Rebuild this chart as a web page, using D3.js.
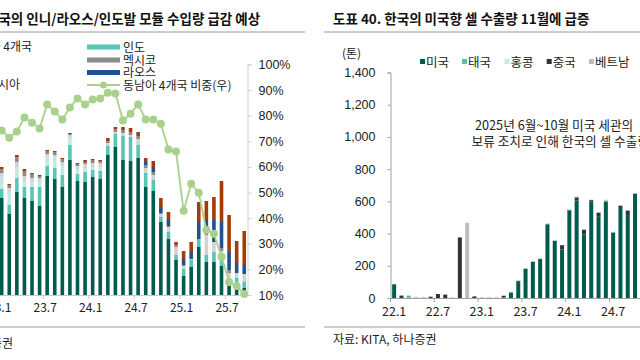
<!DOCTYPE html>
<html><head><meta charset="utf-8">
<script src="https://cdn.jsdelivr.net/npm/d3@7"></script>
<style>
body{margin:0;background:#fff;}
svg{display:block;font-family:"Noto Sans CJK KR","Noto Sans",sans-serif;}
</style>
</head><body>
<svg id="c" width="640" height="360"></svg>
<script>
// ---------- LEFT PANEL DATA ----------
const leftMonths = ["23.1","23.2","23.3","23.4","23.5","23.6","23.7","23.8","23.9","23.10","23.11","23.12",
  "24.1","24.2","24.3","24.4","24.5","24.6","24.7","24.8","24.9","24.10","24.11","24.12",
  "25.1","25.2","25.3","25.4","25.5","25.6","25.7","25.8","25.9"];
const leftTicks = ["23.1","23.7","24.1","24.7","25.1","25.7"];
const leftIndonesia = [970,810,1030,970,940,890,1190,1160,1080,1350,1140,1130,1180,1160,1400,1480,1350,1340,1370,1080,1040,730,560,350,190,280,480,330,330,290,100,80,70];
const leftIndia     = [90,90,140,110,140,190,100,110,120,150,70,100,70,80,90,130,240,240,130,140,110,50,70,50,70,70,80,70,100,70,60,90,60];
const leftCambodia  = [120,130,110,60,50,60,90,110,100,70,50,40,30,40,0,0,0,0,0,0,0,0,0,0,0,0,0,0,0,0,0,0,0];
const leftVietnam   = [40,40,50,50,40,30,30,20,30,30,30,40,40,40,30,20,30,20,60,50,50,30,50,80,30,10,0,200,100,80,60,50,80];
const leftMexico    = [40,30,50,50,40,20,30,30,30,10,20,20,30,20,20,30,30,30,30,30,30,10,10,20,10,0,0,20,0,30,30,0,0];
const leftLaos      = [0,0,0,0,0,0,0,0,0,0,0,0,0,0,0,0,0,0,0,30,50,60,60,0,60,70,180,130,220,260,180,100,90];
const leftOther     = [20,10,20,20,10,10,10,10,10,10,10,20,10,10,30,20,30,40,40,40,60,90,80,30,80,100,190,190,230,410,370,220,340];
const leftShare     = [74.2,71.4,73.8,79.3,77.3,75,84.4,81.6,78.5,83.2,86.7,84.4,86.3,86.7,89,88.7,78.1,80.8,84.4,78.5,78.5,76.9,66.8,66,42.9,53.4,49.9,35.4,33.9,24.9,15.1,13.5,10.4];
const shareTicks    = [10,20,30,40,50,60,70,80,90,100];

// ---------- RIGHT PANEL DATA ----------
const rightMonths = ["22.1","22.2","22.3","22.4","22.5","22.6","22.7","22.8","22.9","22.10","22.11","22.12",
  "23.1","23.2","23.3","23.4","23.5","23.6","23.7","23.8","23.9","23.10","23.11","23.12",
  "24.1","24.2","24.3","24.4","24.5","24.6","24.7","24.8","24.9","24.10"];
const rightTicks = ["22.1","22.7","23.1","23.7","24.1","24.7"];
const rightUS = [85,0,3,0,0,0,0,0,0,0,0,0,0,0,0,4,35,105,182,225,242,458,355,302,545,605,394,600,508,600,407,565,515,648];
const rightTH = [0,0,10,2,2,0,0,0,0,0,0,0,2,2,2,0,0,0,0,0,0,0,0,0,0,0,0,0,0,0,0,0,0,0];
const rightHK = [0,0,0,0,0,0,0,0,0,0,0,0,0,0,0,0,5,0,0,0,0,0,0,0,0,0,0,0,0,0,0,0,0,0];
const rightCN = [0,15,0,0,0,8,25,21,0,376,0,10,0,0,0,10,0,0,0,0,0,0,0,26,0,20,30,8,22,0,0,8,28,0];
const rightVN = [0,0,3,5,4,0,0,0,4,0,467,0,3,3,3,0,0,5,4,4,4,5,4,0,5,5,0,3,3,10,4,3,3,4];
const rightYTicks = [0,200,400,600,800,1000,1200,1400];

// ---------- DRAW ----------
const svg = d3.select("#c");
const txt = "#222";

// ===== LEFT =====
const L = svg.append("g");
L.append("text").attr("x",-14).attr("y",24).attr("font-size",13.5).attr("font-weight",700).attr("fill","#111")
  .text("중국의 인니/라오스/인도발 모듈 수입량 급감 예상");
L.append("line").attr("x1",0).attr("x2",305).attr("y1",32).attr("y2",32).attr("stroke","#bdbdbd").attr("stroke-width",1.5);
L.append("line").attr("x1",0).attr("x2",305).attr("y1",327).attr("y2",327).attr("stroke","#bdbdbd").attr("stroke-width",1.5);
L.append("text").attr("x",13).attr("y",348).attr("text-anchor","end").attr("font-size",12).attr("fill",txt).text("자료: 하나증권");

const xL = d3.scaleBand().domain(leftMonths).range([-2.1, -2.1 + leftMonths.length*7.58]);
const yL = d3.scaleLinear().domain([0,2300]).range([295,65]);
const yS = d3.scaleLinear().domain([10,100]).range([295,64.5]);

const keysL = ["인도네시아","인도","캄보디아","베트남","멕시코","라오스","기타"];
const colsL = ["#005B4F","#57C6B6","#BFE9E1","#D2D2D2","#8A8A8A","#1F538E","#A53B0C"];
const seriesL = [leftIndonesia,leftIndia,leftCambodia,leftVietnam,leftMexico,leftLaos,leftOther];
const tableL = leftMonths.map((m,i)=>{const o={m}; keysL.forEach((k,j)=>o[k]=seriesL[j][i]); return o;});
const stL = d3.stack().keys(keysL)(tableL);
const bwL = 3.6;
L.append("g").selectAll("g").data(stL).join("g").attr("fill",(d,i)=>colsL[i])
  .selectAll("rect").data(d=>d).join("rect")
  .attr("x",d=>xL(d.data.m)+xL.bandwidth()/2-bwL/2).attr("width",bwL)
  .attr("y",d=>yL(d[1])).attr("height",d=>Math.max(0,yL(d[0])-yL(d[1])));

// x axis
L.append("line").attr("x1",0).attr("x2",247).attr("y1",295.5).attr("y2",295.5).attr("stroke","#c8c8c8").attr("stroke-width",1);
leftTicks.forEach(t=>{
  const bx = xL(t);
  if(bx>0) L.append("line").attr("x1",bx).attr("x2",bx).attr("y1",295.5).attr("y2",299).attr("stroke","#c8c8c8");
  L.append("text").attr("x",bx+xL.bandwidth()/2-2).attr("y",312).attr("text-anchor","middle").attr("font-size",12).attr("fill",txt).text(t);
});

// right % axis
const axR = L.append("g").attr("transform","translate(247.5,0)")
  .call(d3.axisRight(yS).tickValues(shareTicks).tickFormat(d=>d+"%").tickSize(4).tickPadding(7));
axR.select(".domain").attr("stroke","#d0d0d0");
axR.selectAll(".tick line").attr("stroke","#d0d0d0");
axR.selectAll("text").attr("font-size",12.5).attr("fill",txt).attr("font-family","inherit");

// share line
const lineG = d3.line().x((d,i)=>xL(leftMonths[i])+xL.bandwidth()/2).y(d=>yS(d));
L.append("path").datum(leftShare).attr("d",lineG).attr("fill","none").attr("stroke","#A9D18E").attr("stroke-width",1.8);
L.append("g").selectAll("circle").data(leftShare).join("circle")
  .attr("cx",(d,i)=>xL(leftMonths[i])+xL.bandwidth()/2).attr("cy",d=>yS(d)).attr("r",4).attr("fill","#A9D18E");

// legend
L.append("text").attr("x",32).attr("y",51).attr("text-anchor","end").attr("font-size",12).attr("fill",txt).text("동남아 4개국");
L.append("text").attr("x",20).attr("y",89).attr("text-anchor","end").attr("font-size",12).attr("fill",txt).text("말레이시아");
const legL = [{n:"인도",c:colsL[1],y:47},{n:"멕시코",c:colsL[4],y:60},{n:"라오스",c:colsL[5],y:72.5}];
legL.forEach(d=>{
  L.append("rect").attr("x",87).attr("y",d.y-2.5).attr("width",33).attr("height",5).attr("fill",d.c);
  L.append("text").attr("x",123).attr("y",d.y+4.5).attr("font-size",12).attr("fill",txt).text(d.n);
});
L.append("line").attr("x1",87).attr("x2",120).attr("y1",85).attr("y2",85).attr("stroke","#A9D18E").attr("stroke-width",1.8);
L.append("circle").attr("cx",103.5).attr("cy",85).attr("r",3.5).attr("fill","#A9D18E");
L.append("text").attr("x",123).attr("y",89.5).attr("font-size",12).attr("fill",txt).text("동남아 4개국 비중(우)");

// ===== RIGHT =====
const R = svg.append("g");
R.append("text").attr("x",333).attr("y",24).attr("font-size",13.5).attr("font-weight",700).attr("fill","#111")
  .text("도표 40. 한국의 미국향 셀 수출량 11월에 급증");
R.append("line").attr("x1",324).attr("x2",640).attr("y1",32).attr("y2",32).attr("stroke","#bdbdbd").attr("stroke-width",1.5);
R.append("line").attr("x1",324).attr("x2",640).attr("y1",327).attr("y2",327).attr("stroke","#bdbdbd").attr("stroke-width",1.5);
R.append("text").attr("x",333).attr("y",344).attr("font-size",12).attr("fill",txt).text("자료: KITA, 하나증권");
R.append("text").attr("x",342).attr("y",58).attr("font-size",12).attr("fill",txt).text("(톤)");

const xR = d3.scaleBand().domain(rightMonths).range([390.5, 390.5 + rightMonths.length*7.3]);
const yRt = d3.scaleLinear().domain([0,1400]).range([298,72.5]);
const keysR = ["미국","태국","홍콩","중국","베트남"];
const colsR = ["#005B4F","#4FC2B1","#C4ECE4","#333333","#BDBDBD"];
const seriesR = [rightUS,rightTH,rightHK,rightCN,rightVN];
const tableR = rightMonths.map((m,i)=>{const o={m}; keysR.forEach((k,j)=>o[k]=seriesR[j][i]); return o;});
const stR = d3.stack().keys(keysR)(tableR);
const bwR = 4;
R.append("g").selectAll("g").data(stR).join("g").attr("fill",(d,i)=>colsR[i])
  .selectAll("rect").data(d=>d).join("rect")
  .attr("x",d=>xR(d.data.m)+xR.bandwidth()/2-bwR/2).attr("width",bwR)
  .attr("y",d=>yRt(d[1])).attr("height",d=>Math.max(0,yRt(d[0])-yRt(d[1])));

const axY = R.append("g").attr("transform","translate(390.5,0)")
  .call(d3.axisLeft(yRt).tickValues(rightYTicks).tickFormat(d3.format(",")).tickSize(3).tickPadding(12));
axY.select(".domain").attr("stroke","#a0a0a0");
axY.selectAll(".tick line").attr("stroke","#a0a0a0");
axY.selectAll("text").attr("font-size",12.5).attr("fill",txt).attr("font-family","inherit");

R.append("line").attr("x1",390).attr("x2",640).attr("y1",298.5).attr("y2",298.5).attr("stroke","#a0a0a0");
rightTicks.forEach(t=>{
  const bx = xR(t);
  R.append("line").attr("x1",bx).attr("x2",bx).attr("y1",298.5).attr("y2",302).attr("stroke","#a0a0a0");
  R.append("text").attr("x",bx+xR.bandwidth()/2).attr("y",316).attr("text-anchor","middle").attr("font-size",12.5).attr("fill",txt).text(t);
});

// legend
const legRx = [420,462,504.5,546.7,589];
keysR.forEach((k,i)=>{
  R.append("rect").attr("x",legRx[i]).attr("y",59).attr("width",5).attr("height",5).attr("fill",colsR[i]);
  R.append("text").attr("x",legRx[i]+6).attr("y",66.5).attr("font-size",12.5).attr("fill",txt).text(k);
});

// annotation
R.append("text").attr("x",475).attr("y",129.5).attr("font-size",12.7).attr("fill",txt).text("2025년 6월~10월 미국 세관의");
R.append("text").attr("x",471.5).attr("y",146).attr("font-size",12.7).attr("fill",txt).text("보류 조치로 인해 한국의 셀 수출량");
</script>
</body></html>
